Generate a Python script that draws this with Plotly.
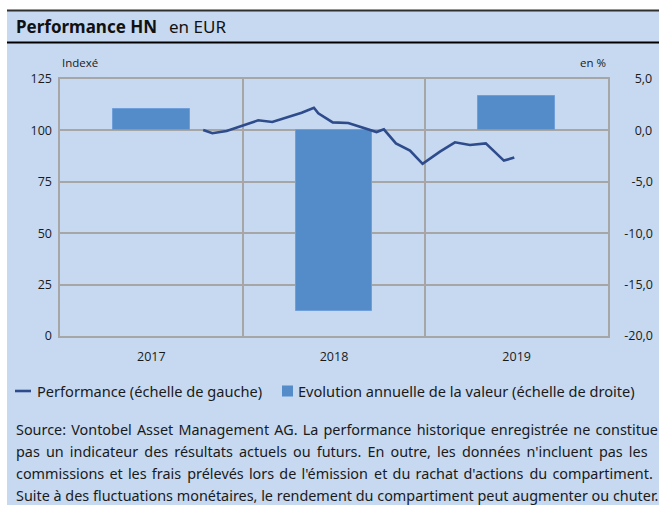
import plotly.graph_objects as go

# ---------------- data ----------------
years = [2017.5, 2018.5, 2019.5]
year_labels = ["2017", "2018", "2019"]
annual_change = [2.1, -17.6, 3.3]          # % (right scale)

perf_x = [2017.784, 2017.834, 2017.912, 2018.085, 2018.162, 2018.259, 2018.323,
          2018.390, 2018.414, 2018.493, 2018.578, 2018.733, 2018.773, 2018.839,
          2018.916, 2018.985, 2019.080, 2019.162, 2019.244, 2019.331, 2019.430,
          2019.487]
perf_y = [100.2, 98.6, 99.7, 104.9, 104.1, 107.0, 108.6, 111.0, 108.3, 103.9,
          103.6, 99.2, 100.5, 93.7, 90.2, 83.7, 89.7, 94.2, 92.9, 93.7, 85.3, 86.8]

left_ticks = [0, 25, 50, 75, 100, 125]
right_ticks = [-20, -15, -10, -5, 0, 5]
right_labels = ["-20,0", "-15,0", "-10,0", "\u2007-5,0", "\u2007\u20080,0", "\u2007\u20085,0"]
year_bounds = [2018, 2019]

source_lines = [
    "Source: Vontobel Asset Management AG. La performance historique enregistrée ne constitue",
    "pas un indicateur des résultats actuels ou futurs. En outre, les données n'incluent pas les",
    "commissions et les frais prélevés lors de l'émission et du rachat d'actions du compartiment.",
    "Suite à des fluctuations monétaires, le rendement du compartiment peut augmenter ou chuter.",
]

# ---------------- style ----------------
W, H = 659, 505
L, R, T, B = 60, 608, 79, 336  # target plot area in viewport pixels
BG = "#C6D9F1"
BAR = "#538CC8"
LINE = "#2E4B8B"
GRID = "#A6A6A6"
TXT = "#1A1A1A"
TICKFONT = dict(family="Open Sans", size=12.5, color=TXT)
TEXTFONT = "Noto Sans"
# extra inter-word spacing to imitate justified text (thin / hair spaces)
JUSTIFY = [["\u200a"], ["\u2009"], ["\u200a", "\u200a", "\u200a", "\u2009"], [""]]


def px(x):
    return (x - L) / (R - L)


def py(y):
    return (B - y) / (B - T)


def justify(text, extras):
    words = text.split(" ")
    out = words[0]
    for i, w in enumerate(words[1:]):
        out += " " + extras[i % len(extras)] + w
    return out


fig = go.Figure()
fig.add_trace(go.Bar(x=years, y=annual_change, width=0.42, marker_color=BAR,
                     marker_line=dict(color="#6E9FDB", width=1),
                     name="Evolution annuelle de la valeur (échelle de droite)",
                     yaxis="y", showlegend=False))
fig.add_trace(go.Scatter(x=perf_x, y=perf_y, mode="lines",
                         line=dict(color=LINE, width=2.6),
                         name="Performance (échelle de gauche)",
                         yaxis="y2", showlegend=False))

fig.update_layout(
    width=W, height=H,
    margin=dict(l=L, r=W - R, t=T, b=H - B, pad=0, autoexpand=False),
    paper_bgcolor="white",
    plot_bgcolor="rgba(0,0,0,0)",
    xaxis=dict(range=[2017, 2020], tickvals=years, ticktext=year_labels,
               showgrid=False, zeroline=False, ticks="", tickfont=TICKFONT,
               ticklabelstandoff=8,
               showline=True, mirror=True, linecolor=GRID, linewidth=1.5,
               minor=dict(tickvals=year_bounds, showgrid=True, gridcolor=GRID,
                          gridwidth=1.5, ticks="")),
    yaxis=dict(side="right", range=[-20, 5], tickvals=right_ticks, ticktext=right_labels,
               showgrid=True, gridcolor=GRID, gridwidth=1.5, zeroline=False,
               ticks="", tickfont=TICKFONT, ticklabelstandoff=12,
               showline=True, mirror=True, linecolor=GRID, linewidth=1.5),
    yaxis2=dict(side="left", overlaying="y", range=[0, 125], tickvals=left_ticks,
                showgrid=False, zeroline=False, ticks="", tickfont=TICKFONT,
                ticklabelstandoff=7),
    bargap=0,
)

shapes = [
    dict(type="rect", xref="paper", yref="paper", x0=px(7), x1=px(W + 20), y0=py(10), y1=py(H + 20),
         fillcolor=BG, line=dict(width=0), layer="below"),
    dict(type="line", xref="paper", yref="paper", x0=px(7), x1=px(W + 20), y0=py(10.5), y1=py(10.5),
         line=dict(color="#2F2F2F", width=2)),
    dict(type="line", xref="paper", yref="paper", x0=px(7), x1=px(W + 20), y0=py(42.5), y1=py(42.5),
         line=dict(color="#000000", width=2)),
    # legend symbols
    dict(type="line", xref="paper", yref="paper", x0=px(15), x1=px(31), y0=py(391), y1=py(391),
         line=dict(color=LINE, width=2.6)),
    dict(type="rect", xref="paper", yref="paper", x0=px(282), x1=px(293), y0=py(385.5), y1=py(396.5),
         fillcolor=BAR, line=dict(width=0)),
]

ann = [
    dict(text="<b>Performance HN</b>", x=px(14), y=py(26), font=dict(family=TEXTFONT, size=17, color="#111")),
    dict(text="en EUR", x=px(167), y=py(26), font=dict(family=TEXTFONT, size=17, color="#111")),
    dict(text="Indexé", x=px(60), y=py(62), font=dict(family="Open Sans", size=11.5, color=TXT)),
    dict(text="en %", x=px(608), y=py(62), xanchor="right", font=dict(family="Open Sans", size=11.5, color=TXT)),
    dict(text="Performance (échelle de gauche)", x=px(35), y=py(391), font=dict(family=TEXTFONT, size=14.6, color=TXT)),
    dict(text="Evolution annuelle de la valeur (échelle de droite)", x=px(296), y=py(391),
         font=dict(family=TEXTFONT, size=14.6, color=TXT)),
]
for i, line in enumerate(source_lines):
    ann.append(dict(text=justify(line, JUSTIFY[i]), x=px(14), y=py(429 + 22.3 * i),
                    font=dict(family=TEXTFONT, size=14.4, color=TXT)))
for a in ann:
    a.setdefault("xanchor", "left")
    a.update(xref="paper", yref="paper", yanchor="middle", showarrow=False)

fig.update_layout(shapes=shapes, annotations=ann)
fig.write_html("out.html", config={"displayModeBar": False},
               post_script="document.body.style.margin='0';")
